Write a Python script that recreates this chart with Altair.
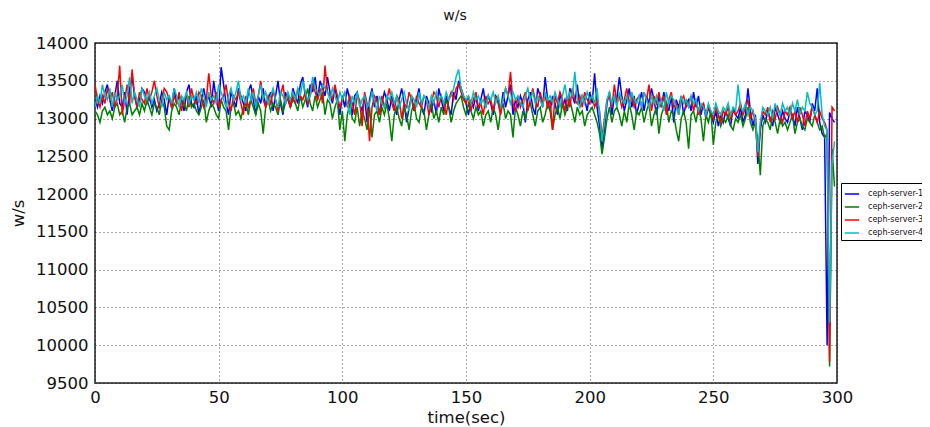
import altair as alt
import pandas as pd

servers = ["ceph-server-1", "ceph-server-2", "ceph-server-3", "ceph-server-4"]
colors = ["#0000ff", "#008000", "#ff0000", "#00bfbf"]
x_ticks = [0, 50, 100, 150, 200, 250, 300]
y_ticks = [9500, 10000, 10500, 11000, 11500, 12000, 12500, 13000, 13500, 14000]
time_sec = list(range(300))

server1 = [
    13250,13150,13300,13200,13350,13450,13250,13100,13300,13500,13200,13150,13350,13050,13400,13550,13300,13150,13250,13400,
    13350,13200,13300,13150,13250,13100,13200,13350,13250,13050,13300,13150,13400,13200,13300,13250,13100,13350,13450,13200,
    13150,13300,13050,13250,13400,13200,13300,13150,13500,13250,13100,13680,13450,13200,13050,13350,13250,13150,13400,13300,
    13200,13100,13350,13450,13250,13050,13300,13200,13400,13150,13250,13350,13100,13300,13500,13200,13050,13350,13250,13150,
    13400,13300,13200,13450,13550,13300,13150,13450,13350,13550,13250,13500,13400,13300,13550,13350,13200,13400,13250,13050,
    13300,13150,13400,13250,13050,13300,13350,13200,13100,13300,12950,13250,13400,13150,13300,13050,13200,13350,13250,13100,
    13300,13150,13050,13250,13400,13200,12950,13150,13300,13100,13250,13400,13150,13050,13300,13200,13100,13250,13050,13400,
    13250,13100,13300,13150,13050,13350,13250,13500,13400,13300,13200,13050,13250,13150,13300,13100,13250,13400,13150,13300,
    13200,13050,13300,13250,13100,13350,13150,13300,13450,13050,13250,13150,13300,13200,12950,13250,13350,13150,13050,13400,
    13300,13150,13550,13250,13100,13300,13200,13050,13350,13150,13250,13100,13400,13300,13200,13450,13150,13300,13250,13100,
    13350,13200,13600,13150,12900,12600,12850,13200,13350,13050,13300,13250,13550,13300,13100,13250,13400,13150,13300,13050,
    13200,13350,13100,13300,13200,13400,13250,13050,13300,13150,13350,13200,13100,13300,12950,13250,13150,13300,13050,13200,
    13250,13100,13350,13150,13300,13050,13200,13000,13150,13050,12950,13100,12900,13050,12950,13100,13000,12900,13150,13050,
    13000,13150,12950,13050,13400,13100,12900,13050,12400,12850,13050,12950,13100,13000,12900,13150,13050,12950,13100,13000,
    12950,13100,13050,12900,13150,13000,12850,13100,13050,12950,13200,13100,13400,12950,12800,12750,10000,13080,13000,12950,
]

server2 = [
    13100,13050,12950,13100,13150,13050,13100,13000,13150,13200,13050,13100,12950,13150,13200,13050,13100,13150,13050,13200,
    13100,13250,13150,13050,13200,13150,13050,13250,13150,12900,12850,13100,13200,13150,13050,13250,13200,13100,13300,13150,
    13200,13100,13050,13150,13250,12950,13100,13200,13150,13050,13000,13250,13150,13100,12850,13150,13200,13050,13100,13000,
    13150,13200,13050,13250,13150,13050,13200,13100,12800,13150,13250,13100,13200,13150,13050,13250,13100,13200,13300,13150,
    13250,13200,13100,13300,13150,13250,13400,13200,13100,13300,13150,13250,13350,13050,13250,13200,13000,13150,13250,12850,
    13100,12700,13050,13200,13000,12950,13150,12900,13100,13000,12850,13150,12750,13050,13100,12950,13150,13050,13200,13000,
    12700,13050,13150,13000,12900,13150,13050,12850,13100,13200,13000,12950,13150,13100,12850,13050,13200,13000,13100,12950,
    13150,13050,13250,13150,12950,13100,13200,13250,13300,13150,13050,13200,13100,13000,13150,13050,13100,12900,13050,13100,
    12950,13150,13050,12850,13100,13200,13000,13100,13050,12750,13150,13050,12900,13100,13000,13150,13200,13050,12900,13100,
    13150,12950,13050,13200,13100,12850,13050,13150,13000,13200,13050,13150,13250,13100,12950,13150,13050,13100,12900,13050,
    13100,13150,13050,12950,12800,12530,12750,13000,13150,12950,13100,13150,13050,12900,13100,12950,13200,13050,12850,13100,
    13050,13150,12950,13100,13200,12900,13050,13150,12800,13050,13150,13200,12950,13100,13050,12850,12700,13000,13100,12950,
    12600,13050,13100,12950,13150,13000,12700,13050,12950,13100,12650,12950,13050,12900,13000,12950,13050,12900,12850,13000,
    12950,13050,12900,13000,13150,12950,12850,12950,12700,12250,12900,13000,12950,12850,13050,12950,12800,13000,12900,12950,
    12850,12950,13050,12800,12950,13000,12900,12850,13000,12950,12900,13050,12950,12850,12900,12750,12800,9720,12600,12100,
]

server3 = [
    13450,13250,13150,13300,13200,13400,13250,13350,13150,13300,13700,13050,13250,13450,13200,13650,13300,13150,13350,13250,
    13200,13400,13250,13350,13500,13300,13150,13250,13400,13350,13250,13150,13300,13200,13350,13100,13250,13300,13150,13400,
    13250,13200,13350,13300,13150,13250,13600,13300,13200,13350,13150,13250,13300,13450,13200,13100,13300,13250,13350,13200,
    13050,13300,13150,13250,13400,13200,13300,13500,13250,13150,13300,13200,13350,13250,13100,13300,13450,13200,13300,13150,
    13300,13200,13400,13300,13250,13350,13200,13300,13450,13350,13250,13400,13200,13700,13350,13300,13250,13450,13300,13150,
    13250,13350,13150,13300,13200,13050,13300,13250,12900,13350,13200,12700,13150,13300,13250,13050,13300,13150,13250,13400,
    13200,13100,13300,13250,13000,13200,13150,13350,13250,13100,13300,13200,13150,13300,13250,13050,13200,13350,13300,13150,
    13300,13200,13050,13250,13350,13250,13400,13450,13350,13250,13200,13300,13100,13250,13350,13150,13200,13050,13300,13200,
    13250,13100,13300,13200,13050,13250,13400,13300,13620,13200,13100,13300,13150,13250,13350,13100,13250,13400,13250,13150,
    13350,13200,13300,13150,13250,12850,13300,13200,13350,13250,13100,13300,13150,13400,13250,13200,13300,13150,13350,13250,
    13200,13300,13150,13250,13100,12750,13000,13250,13300,13150,13450,13200,13300,13150,13250,13400,13200,13300,13150,13250,
    13300,13150,13350,13250,13450,13100,13300,13200,13350,13150,13300,13050,13250,13350,13150,13200,13050,13250,13300,13150,
    13200,13300,13100,13250,13050,13150,13200,13050,13150,13100,13000,13150,13050,12950,13100,13050,13150,13000,13100,13050,
    13100,13200,13050,13150,13250,13000,13100,12950,12500,12900,13100,13050,13150,12950,13100,13000,13150,13050,12950,13100,
    13050,13150,13000,13100,12950,13150,13050,12900,13100,13000,13150,13050,12950,13100,13000,12950,12850,9780,13150,13100,
]

server4 = [
    13150,13300,13200,13450,13300,13250,13400,13150,13350,13250,13300,13450,13200,13300,13550,13200,13350,13250,13150,13400,
    13300,13250,13350,13200,13300,13400,13250,13150,13350,13250,13300,13200,13400,13300,13150,13300,13250,13350,13200,13300,
    13250,13350,13200,13400,13300,13150,13350,13250,13300,13200,13450,13350,13250,13150,13300,13400,13250,13350,13500,13250,
    13300,13200,13400,13250,13350,13150,13300,13450,13250,13350,13200,13300,13400,13250,13150,13350,13300,13200,13350,13250,
    13350,13250,13400,13300,13500,13350,13250,13300,13550,13400,13350,13300,13450,13400,13350,13250,13400,13300,13200,13350,
    13250,13350,13200,13050,13300,13200,13350,13150,13250,13300,13150,13200,13350,13250,13100,13300,13200,13150,13300,13250,
    13350,13200,13300,13150,13250,13350,13200,13100,13300,13250,13150,13350,13200,13300,13250,13150,13300,13200,13350,13250,
    13300,13200,13350,13250,13300,13400,13550,13650,13400,13300,13250,13300,13200,13350,13250,13300,13200,13250,13150,13300,
    13250,13350,13200,13300,13150,13250,13400,13300,13200,13350,13250,13300,13200,13150,13300,13400,13250,13350,13200,13300,
    13250,13150,13350,13250,13300,13200,13350,13250,13150,13300,13450,13250,13350,13300,13620,13250,13150,13300,13200,13350,
    13250,13300,13200,13400,13050,12700,12950,13250,13350,13200,13300,13150,13350,13250,13200,13300,13150,13350,13250,13200,
    13300,13150,13350,13250,13150,13300,13200,13300,13150,13250,13100,13350,13200,13300,13250,13150,13050,13300,13200,13250,
    13150,13300,13200,13250,13100,13200,13150,13050,13200,13100,13050,13200,13100,13050,13150,13100,13200,13050,13150,13100,
    13450,13150,13100,13200,13050,13150,13100,13000,12550,12950,13150,13100,13050,13150,13000,13200,13100,13050,13200,13100,
    13150,13050,13200,13100,13250,13050,13150,13100,13350,13200,13150,13050,13100,13470,13050,12900,12850,10300,12410,12700,
]

rows = []
for name, vals in zip(servers, [server1, server2, server3, server4]):
    for t, v in zip(time_sec, vals):
        rows.append({"time": t, "value": v, "server": name})
df = pd.DataFrame(rows)

FONT = "DejaVu Sans"

chart = alt.Chart(df).mark_line(strokeWidth=1.5, clip=True).encode(
    x=alt.X("time:Q",
            scale=alt.Scale(domain=[0, 300], nice=False, zero=False),
            axis=alt.Axis(values=x_ticks, title="time(sec)", format="d",
                          grid=True, gridColor="#000000", gridDash=[1, 3], gridOpacity=0.7,
                          ticks=False, domain=False, labelPadding=6, labelFlush=False,
                          labelFontSize=16.5, labelFont=FONT, labelColor="#111",
                          titleFontSize=16.5, titleFont=FONT, titleFontWeight="normal",
                          titleColor="#111", titleBaseline="top", titleY=26, titlePadding=0)),
    y=alt.Y("value:Q",
            scale=alt.Scale(domain=[9500, 14000], nice=False, zero=False),
            axis=alt.Axis(values=y_ticks, title="w/s", format="d",
                          grid=True, gridColor="#000000", gridDash=[1, 3], gridOpacity=0.7,
                          ticks=False, domain=False, labelPadding=7, labelFlush=False,
                          labelFontSize=16.5, labelFont=FONT, labelColor="#111",
                          titleFontSize=16.5, titleFont=FONT, titleFontWeight="normal",
                          titleColor="#111", titleX=-77, titleY=170, titleAngle=-90,
                          titleAlign="center", titleBaseline="middle")),
    color=alt.Color("server:N",
                    scale=alt.Scale(domain=servers, range=colors),
                    legend=alt.Legend(title=None, orient="none", legendX=746, legendY=140,
                                      symbolType="stroke", symbolSize=200, symbolStrokeWidth=1.5,
                                      labelFontSize=8, labelFont=FONT, labelColor="#111",
                                      labelOffset=8, rowPadding=1, padding=3,
                                      strokeColor="#000000", fillColor="#ffffff")),
).properties(
    width=742,
    height=340,
    title=alt.TitleParams("w/s", fontSize=14, font=FONT, fontWeight="normal", color="#111",
                          anchor="middle", frame="group", dx=-11, dy=13, offset=14,
                          baseline="alphabetic"),
    autosize=alt.AutoSizeParams(type="none"),
    padding={"left": 87, "top": 35, "right": 85, "bottom": 44},
).configure_view(
    stroke="#222222", strokeWidth=1.5
)

chart.save("out.html", embed_options={"renderer": "svg", "actions": False})
